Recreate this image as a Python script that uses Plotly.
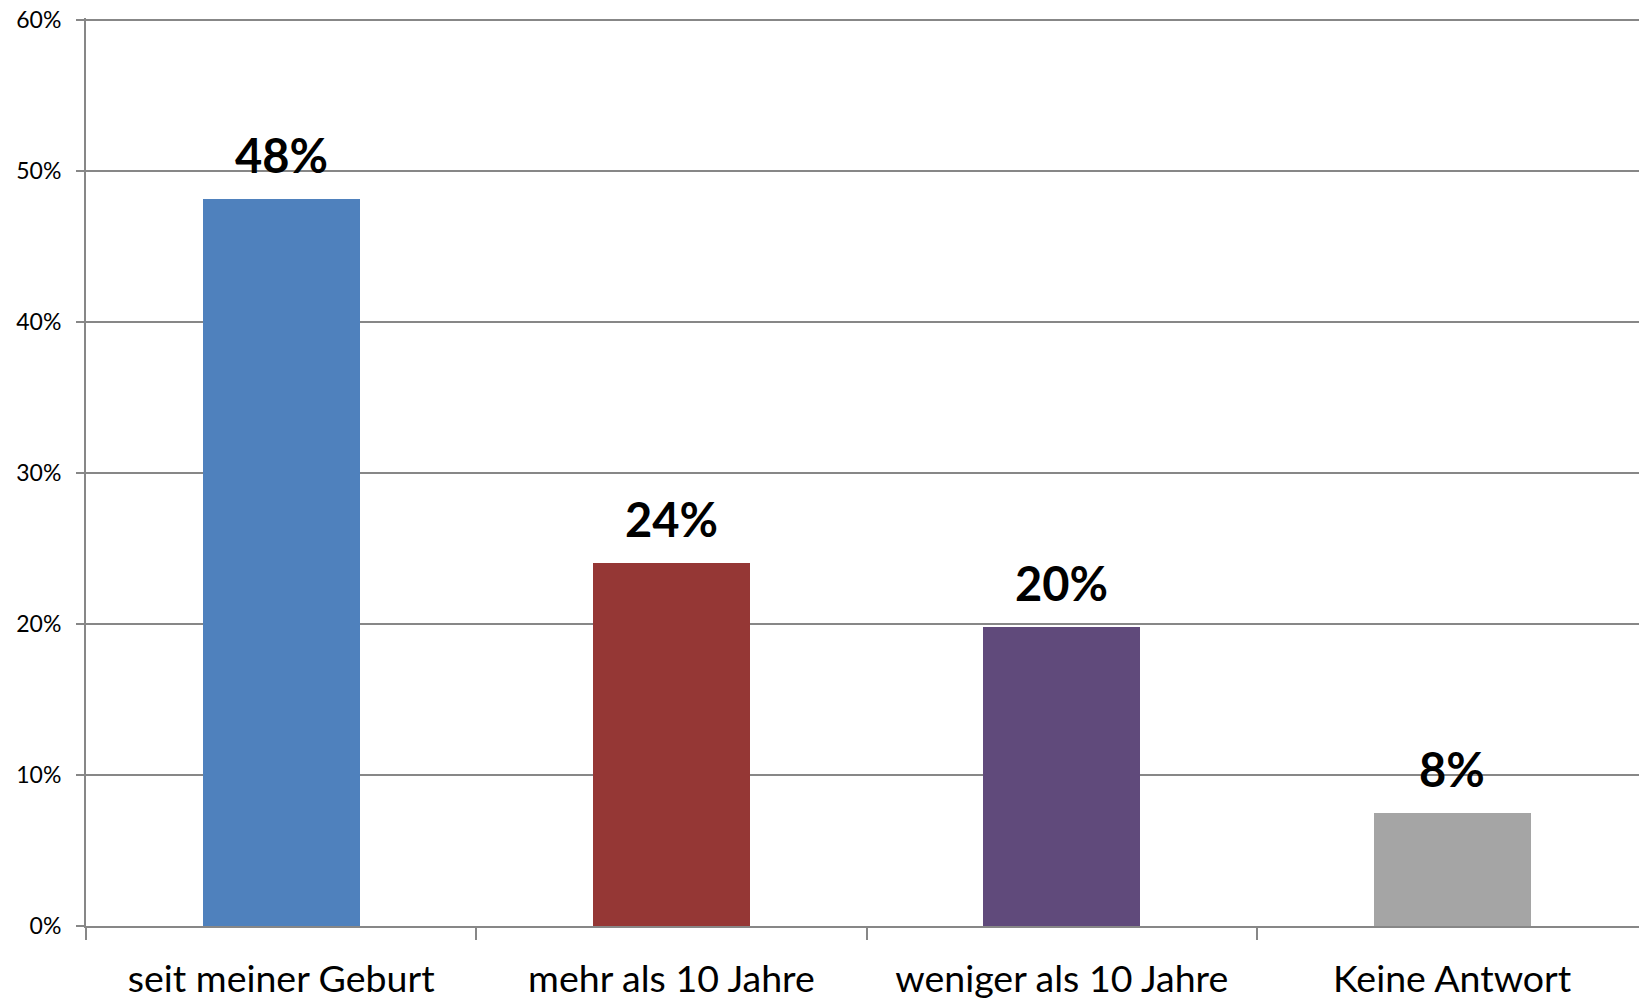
import plotly.graph_objects as go

categories = ["seit meiner Geburt", "mehr als 10 Jahre", "weniger als 10 Jahre", "Keine Antwort"]
values = [48.1, 24.0, 19.8, 7.5]
value_labels = ["48%", "24%", "20%", "8%"]
bar_colors = ["#4F81BD", "#953735", "#604A7B", "#A5A5A5"]
y_ticks = [0, 10, 20, 30, 40, 50, 60]
y_tick_labels = ["0%", "10%", "20%", "30%", "40%", "50%", "60%"]

GRID = "#878787"
FONT = "Lato"

fig = go.Figure()
fig.add_trace(go.Bar(
    x=categories, y=values,
    marker=dict(color=bar_colors, line=dict(width=0)),
    width=0.402,
    hoverinfo="skip",
))

for c, v, t in zip(categories, values, value_labels):
    fig.add_annotation(
        x=c, y=v, text="<b>" + t + "</b>", showarrow=False,
        yanchor="bottom", yshift=14,
        font=dict(family=FONT, size=47, color="#000000"),
    )

fig.update_layout(
    width=1639, height=999,
    margin=dict(l=86, r=0, t=18, b=73),
    paper_bgcolor="white", plot_bgcolor="white",
    showlegend=False,
    bargap=0,
)
fig.update_xaxes(
    type="category",
    range=[-0.5, 3.479],
    automargin=False,
    showgrid=False,
    showline=True, linecolor=GRID, linewidth=2,
    ticks="outside", tickson="boundaries", ticklen=12, tickwidth=2, tickcolor=GRID,
    tickfont=dict(family=FONT, size=37.5, color="#000000"),
    ticklabelstandoff=19,
)
fig.update_yaxes(
    range=[0, 60.1],
    automargin=False,
    tickvals=y_ticks, ticktext=y_tick_labels,
    showgrid=True, gridcolor=GRID, gridwidth=2,
    showline=True, linecolor=GRID, linewidth=2,
    zeroline=False,
    ticks="outside", ticklen=8, tickwidth=2, tickcolor=GRID,
    tickfont=dict(family=FONT, size=23, color="#000000"),
    ticklabelstandoff=10,
)

fig.write_html(
    "out.html",
    config={"displayModeBar": False},
    post_script="document.body.style.margin='0';document.body.style.overflow='hidden';",
)
